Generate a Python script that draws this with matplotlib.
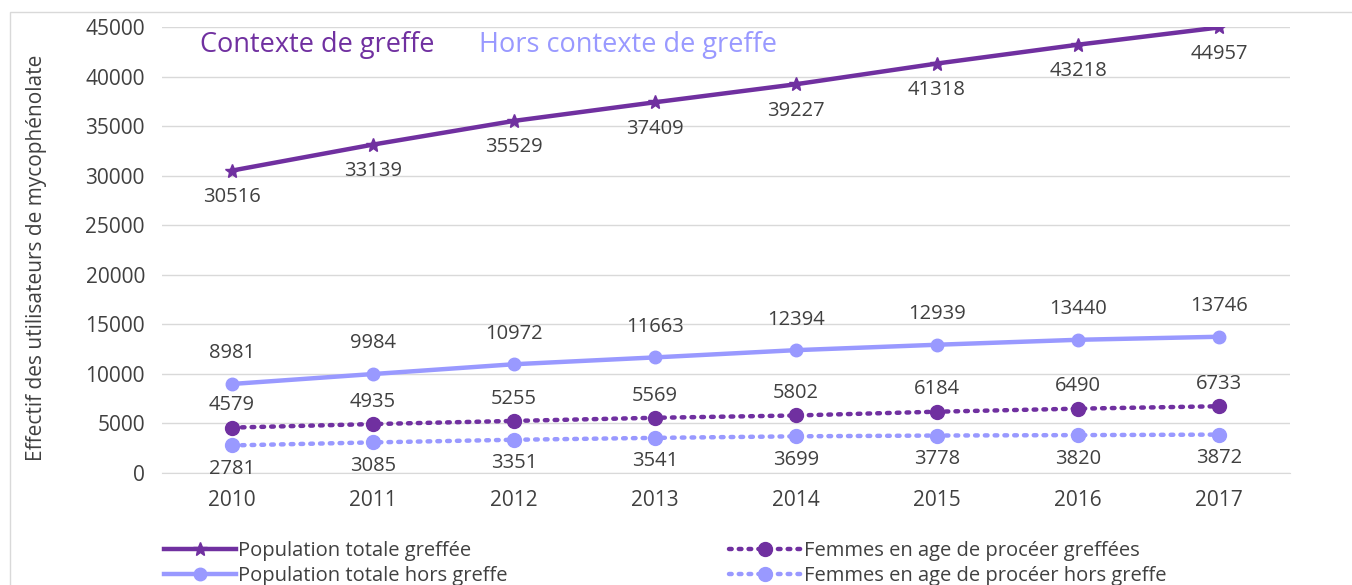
import matplotlib.pyplot as plt
from matplotlib.patches import Rectangle

years = [2010, 2011, 2012, 2013, 2014, 2015, 2016, 2017]
pop_greffee = [30516, 33139, 35529, 37409, 39227, 41318, 43218, 44957]
pop_hors = [8981, 9984, 10972, 11663, 12394, 12939, 13440, 13746]
femmes_greffees = [4579, 4935, 5255, 5569, 5802, 6184, 6490, 6733]
femmes_hors = [2781, 3085, 3351, 3541, 3699, 3778, 3820, 3872]

dark = "#7030A0"
light = "#9999FF"
txt = "#404040"

plt.rcParams['font.family'] = ['Open Sans', 'DejaVu Sans']

fig = plt.figure(figsize=(13.52, 5.85), dpi=100)
fig.patches.append(Rectangle((10 / 1352, -0.01), 1.5, 1 - 12 / 585 + 0.01,
                             transform=fig.transFigure, fill=False,
                             edgecolor="#d9d9d9", linewidth=1))
ax = fig.add_axes([0.1195, 0.1915, 0.8343, 0.7623])

x = list(range(len(years)))
ax.plot(x, pop_greffee, color=dark, lw=3.2, marker='*', ms=10,
        label="Population totale greffée", zorder=4)
ax.plot(x, pop_hors, color=light, lw=3.2, marker='o', ms=9,
        label="Population totale hors greffe", zorder=4)
ax.plot(x, femmes_greffees, color=dark, lw=3.2, ls=(0, (0.6, 1.6)),
        dash_capstyle='round', marker='o', ms=10,
        label="Femmes en age de procéer greffées", zorder=4)
ax.plot(x, femmes_hors, color=light, lw=3.2, ls=(0, (0.6, 1.6)),
        dash_capstyle='round', marker='o', ms=10,
        label="Femmes en age de procéer hors greffe", zorder=4)

for series, dy in [(pop_greffee, -19), (pop_hors, 22),
                   (femmes_greffees, 16), (femmes_hors, -17)]:
    for i, v in enumerate(series):
        ax.annotate(str(v), (i, v), xytext=(0, dy), textcoords='offset points',
                    ha='center', va='center', fontsize=14.5, color=txt)

ax.set_xlim(-0.5, len(years) - 0.5)
ax.set_ylim(0, 45000)
ax.set_yticks(range(0, 45001, 5000))
ax.set_xticks(x)
ax.set_xticklabels([str(y) for y in years])
ax.tick_params(axis='both', length=0, labelsize=15, labelcolor=txt)
ax.tick_params(axis='x', pad=12)
ax.tick_params(axis='y', pad=12)
ax.grid(axis='y', color="#d9d9d9", lw=1)
ax.set_axisbelow(True)
for s in ['top', 'right', 'left']:
    ax.spines[s].set_visible(False)
ax.spines['bottom'].set_color("#d9d9d9")

ax.set_ylabel("Effectif des utilisateurs de mycophénolate", fontsize=15,
              color=txt)
ax.yaxis.set_label_coords(-0.1015, 0.482)

ax.text(0.034, 0.96, "Contexte de greffe", transform=ax.transAxes,
        fontsize=19.5, color=dark, va='center', ha='left')
ax.text(0.281, 0.96, "Hors contexte de greffe", transform=ax.transAxes,
        fontsize=19.5, color=light, va='center', ha='left')

fig.legend(loc='upper left', bbox_to_anchor=(0.115, 0.089), ncol=2,
           frameon=False, fontsize=14.5, labelcolor=txt, handlelength=3.6,
           handletextpad=0.1, columnspacing=11.0, labelspacing=0.25,
           borderaxespad=0)

fig.savefig("out.png", dpi=100)
